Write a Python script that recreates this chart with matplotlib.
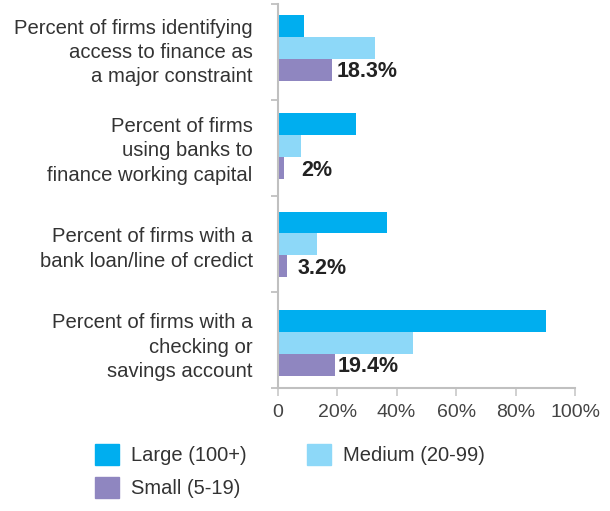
import matplotlib
matplotlib.use("Agg")
import matplotlib.pyplot as plt
from matplotlib.patches import Patch
import numpy as np

categories = [
    "Percent of firms identifying\naccess to finance as\na major constraint",
    "Percent of firms\nusing banks to\nfinance working capital",
    "Percent of firms with a\nbank loan/line of credict",
    "Percent of firms with a\nchecking or\nsavings account",
]
series_names = ["Large (100+)", "Medium (20-99)", "Small (5-19)"]
large = [8.9, 26.3, 36.8, 90.2]
medium = [32.7, 7.8, 13.2, 45.5]
small = [18.3, 2.0, 3.2, 19.4]
small_labels = ["18.3%", "2%", "3.2%", "19.4%"]
x_ticks = [0, 20, 40, 60, 80, 100]
x_tick_labels = ["0", "20%", "40%", "60%", "80%", "100%"]

colors = ["#00AEEF", "#8DD8F8", "#8F86C0"]
label_offsets_px = [5, 18, 10, 2]

plt.rcParams["font.family"] = ["Liberation Sans", "DejaVu Sans"]

fig = plt.figure(figsize=(6.10, 5.11), dpi=100)
W, H = 610, 511
ax = fig.add_axes([277.7 / W, (H - 388.3) / H, 297.3 / W, 384 / H])

y = np.arange(len(categories))
h = 0.2228
ax.barh(y - h, large, height=h, color=colors[0], label=series_names[0])
ax.barh(y, medium, height=h, color=colors[1], label=series_names[1])
ax.barh(y + h, small, height=h, color=colors[2], label=series_names[2])

for i, (v, lab) in enumerate(zip(small, small_labels)):
    ax.annotate(lab, xy=(v, y[i] + h), xytext=(label_offsets_px[i] * 0.72, -1.5),
                textcoords="offset points", ha="left", va="center",
                fontsize=15.5, fontweight="bold", color="#222222")

ax.set_xlim(0, 100)
y_top, y_bottom = -0.4425, 3.464
ax.set_ylim(y_bottom, y_top)

ax.set_yticks(y)
ax.set_yticklabels(categories, fontsize=14.6, color="#333333", linespacing=1.36)
ax.tick_params(axis="y", which="major", length=0, pad=18)
ax.set_yticks(np.linspace(y_top, y_bottom, len(categories) + 1), minor=True)
ax.tick_params(axis="y", which="minor", length=5, width=1.2, color="#bbbbbb", direction="out")

ax.set_xticks(x_ticks)
ax.set_xticklabels(x_tick_labels, fontsize=14, color="#444444")
ax.tick_params(axis="x", length=6, width=1.2, color="#c8c8c8", direction="out", pad=5.5)

for s in ["top", "right"]:
    ax.spines[s].set_visible(False)
for s in ["left", "bottom"]:
    ax.spines[s].set_color("#c0c0c0")
    ax.spines[s].set_linewidth(1.5)

handles = [Patch(color=colors[0]), Patch(color=colors[2]), Patch(color=colors[1])]
labels = [series_names[0], series_names[2], series_names[1]]
fig.legend(handles, labels, loc="upper left", bbox_to_anchor=(95 / W, 1 - 444 / H),
           ncol=2, frameon=False, fontsize=14.5, handlelength=1.19, handleheight=1.19,
           handletextpad=0.6, columnspacing=3.0, labelspacing=0.6,
           borderpad=0, borderaxespad=0, labelcolor="#333333")

fig.savefig("out.png", dpi=100)
